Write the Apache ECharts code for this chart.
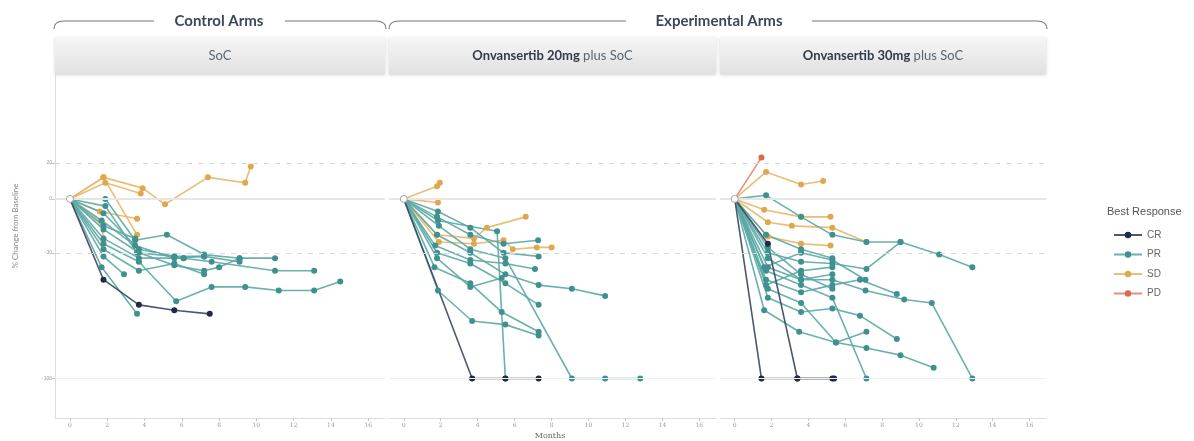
<!DOCTYPE html>
<html><head><meta charset="utf-8">
<script src="https://cdn.jsdelivr.net/npm/echarts@6/dist/echarts.min.js"></script>
<style>html,body{margin:0;padding:0;background:#fff}#c{width:1194px;height:441px}</style>
</head><body><div id="c"></div>
<script>
// ---- tick labels / categories ----
const monthTicks = [0, 2, 4, 6, 8, 10, 12, 14, 16];
const yTicks = [20, 0, -30, -100];
const responses = ['CR', 'PR', 'SD', 'PD'];
const panelTitles = ['SoC', 'Onvansertib 20mg plus SoC', 'Onvansertib 30mg plus SoC'];

// ---- panel 1: SoC ----
const socCR = [
  [[0,0],[1.8,-45],[3.7,-59],[5.6,-62],[7.5,-64]]
];
const socPR = [
  [[0,0],[1.9,0],[3.5,-23],[5.2,-20],[7.2,-31],[9.1,-33],[11,-33]],
  [[0,0],[1.8,-8],[3.7,-28],[5.6,-32],[7.2,-32],[9.1,-35]],
  [[0,0],[1.8,-17],[3.7,-30],[5.6,-37],[7.2,-40],[8,-38],[9.1,-33]],
  [[0,0],[1.8,-22],[3.7,-33],[6.1,-33],[7.6,-35],[11,-40],[13.1,-40]],
  [[0,0],[1.8,-32],[2.9,-42]],
  [[0,0],[1.8,-28],[3.7,-40],[5.6,-36],[7.2,-42]],
  [[0,0],[1.8,-25],[3.7,-35],[5.7,-57],[7.6,-49],[9.4,-49],[11.2,-51],[13.1,-51],[14.5,-46]],
  [[0,0],[1.7,-38],[3.6,-64]],
  [[0,0],[1.7,-12],[3.5,-26],[5.6,-33],[7.2,-32]],
  [[0,0],[1.8,-15],[3.5,-22]],
  [[0,0],[1.9,-4],[3.6,-30],[5.6,-32],[6.1,-33]]
];
const socSD = [
  [[0,0],[1.8,12],[3.9,6],[5.1,-3],[7.4,12],[9.4,9],[9.7,18]],
  [[0,0],[1.9,9],[3.8,3]],
  [[0,0],[1.8,12],[3.6,-20]],
  [[0,0],[1.6,-7],[3.6,-11]],
  [[0,0],[1.7,-13],[1.8,-23]]
];
const socPD = [];

// ---- panel 2: Onvansertib 20mg ----
const d20CR = [
  [[0,0],[3.7,-100],[5.5,-100],[7.3,-100]]
];
const d20PR = [
  [[0,0],[1.85,-7],[3.6,-16],[5.4,-30],[7.3,-32]],
  [[0,0],[1.85,-12],[5.05,-18],[5.5,-100]],
  [[0,0],[1.8,-20],[3.6,-30],[5.5,-42],[7.3,-48],[9.1,-50],[10.9,-54]],
  [[0,0],[1.7,-26],[3.6,-34],[5.5,-36],[7.1,-39]],
  [[0,0],[1.66,-38],[3.6,-47],[5.3,-63],[7.3,-74]],
  [[0,0],[1.85,-51],[3.7,-68],[5.5,-70],[7.3,-76]],
  [[0,0],[1.8,-30],[3.6,-36],[5.5,-47],[7.3,-59]],
  [[0,0],[1.9,-15],[3.6,-28],[5.5,-33],[9.1,-100],[10.9,-100],[12.8,-100]],
  [[0,0],[1.8,-33],[3.6,-49],[5.3,-44]],
  [[0,0],[1.8,-10],[3.6,-20],[5.4,-25],[7.27,-23]]
];
const d20SD = [
  [[0,0],[1.8,7],[1.95,9]],
  [[0,0],[1.85,-2]],
  [[0,0],[1.8,-20],[3.8,-22],[4.5,-16],[6.6,-10]],
  [[0,0],[1.9,-24],[3.8,-25],[5.4,-23],[5.9,-28],[7.2,-27],[8,-27]]
];
const d20PD = [];

// ---- panel 3: Onvansertib 30mg ----
const d30CR = [
  [[0,0],[1.45,-100],[3.4,-100],[5.3,-100]],
  [[0,0],[1.8,-25],[3.4,-100],[5.4,-100]]
];
const d30PR = [
  [[0,0],[1.7,2],[3.6,-10],[5.3,-20],[7.15,-24],[9.0,-24],[11.1,-31],[12.9,-38]],
  [[0,0],[1.8,-30],[3.6,-35],[5.3,-36],[7.15,-39],[9.0,-24]],
  [[0,0],[1.8,-38],[3.6,-45],[5.3,-45],[7.1,-51],[9.2,-56],[10.7,-58],[12.9,-100]],
  [[0,0],[1.7,-45],[3.6,-52],[5.3,-48],[6.8,-45],[8.8,-53]],
  [[0,0],[1.6,-62],[3.5,-74],[5.5,-80],[7.15,-74]],
  [[0,0],[1.8,-55],[3.6,-63],[5.3,-61],[6.8,-65],[8.8,-78]],
  [[0,0],[1.8,-50],[3.6,-58],[5.5,-80],[7.15,-83],[9.0,-87],[10.8,-94]],
  [[0,0],[1.7,-40],[3.6,-48],[5.3,-55],[7.15,-100]],
  [[0,0],[1.6,-38],[3.6,-30],[5.3,-34],[7.1,-45]],
  [[0,0],[1.8,-33],[3.6,-45],[5.3,-42]],
  [[0,0],[1.7,-48],[3.6,-40],[5.3,-38]],
  [[0,0],[1.8,-27],[3.6,-42],[5.3,-50]],
  [[0,0],[1.7,-20],[3.6,-28],[5.3,-33]]
];
const d30SD = [
  [[0,0],[1.7,15],[3.6,8],[4.8,10]],
  [[0,0],[1.6,-6],[3.6,-10],[5.2,-10]],
  [[0,0],[1.8,-13],[3.1,-15],[5.3,-16],[7.15,-24]],
  [[0,0],[1.8,-21],[3.6,-25],[5.2,-26]]
];
const d30PD = [
  [[0,0],[1.45,23]]
];

const panels = [
  {CR: socCR, PR: socPR, SD: socSD, PD: socPD},
  {CR: d20CR, PR: d20PR, SD: d20SD, PD: d20PD},
  {CR: d30CR, PR: d30PR, SD: d30SD, PD: d30PD}
];

const lineColor = {CR: '#3a4660', PR: '#5aa8a5', SD: '#e8b666', PD: '#e2836a'};
const dotColor  = {CR: '#1f2b42', PR: '#3f918f', SD: '#dfa84f', PD: '#d8694d'};

const gridBoxes = [
  {left: 55, width: 330},
  {left: 389, width: 327},
  {left: 720, width: 326}
];
const TOP = 75, BOTTOM_Y = 418;

const grids = [], xAxes = [], yAxes = [], series = [];
gridBoxes.forEach((g, i) => {
  grids.push({left: g.left, width: g.width, top: TOP, height: BOTTOM_Y - TOP, containLabel: false});
  xAxes.push({
    type: 'value', gridIndex: i, min: -0.8, max: 16.9,
    axisLine: {show: true, onZero: false, lineStyle: {color: '#dcdcdc', width: 1}},
    axisTick: {show: true, customValues: monthTicks, length: 3, lineStyle: {color: '#c8c8c8'}},
    axisLabel: {show: true, customValues: monthTicks, fontSize: 6, color: '#9a9a9a', margin: 4, fontFamily: 'DejaVu Serif'},
    splitLine: {show: false}
  });
  yAxes.push({
    type: 'value', gridIndex: i, min: -122, max: 69,
    axisLine: {show: i === 0, onZero: false, lineStyle: {color: '#dcdcdc', width: 1}},
    axisTick: {show: i === 0, customValues: yTicks, length: 3, lineStyle: {color: '#c8c8c8'}},
    axisLabel: {show: i === 0, customValues: yTicks, fontSize: 5, color: '#9a9a9a', margin: 3},
    splitLine: {show: false}
  });
  // reference lines
  series.push({
    type: 'line', xAxisIndex: i, yAxisIndex: i, data: [[0, 0]], symbol: 'none',
    lineStyle: {opacity: 0}, silent: true, z: 1,
    markLine: {
      silent: true, symbol: 'none', label: {show: false},
      data: [
        {yAxis: 20, lineStyle: {type: [5, 6], color: '#d8d8d8', width: 1}},
        {yAxis: 0, lineStyle: {type: 'solid', color: '#e6e6e6', width: 2}},
        {yAxis: -30, lineStyle: {type: [5, 6], color: '#d8d8d8', width: 1}},
        {yAxis: -100, lineStyle: {type: 'solid', color: '#f0f0f0', width: 1}}
      ]
    }
  });
  const order = ['SD', 'PR', 'CR', 'PD'];
  order.forEach(r => {
    panels[i][r].forEach(pts => {
      series.push({
        type: 'line', name: r, xAxisIndex: i, yAxisIndex: i, data: pts,
        symbol: 'circle', symbolSize: 6, showSymbol: true,
        lineStyle: {color: lineColor[r], width: 1.6, opacity: 0.9},
        itemStyle: {color: dotColor[r]}, z: 3, animation: false
      });
    });
  });
  series.push({
    type: 'line', xAxisIndex: i, yAxisIndex: i, data: [[0, 0]],
    symbol: 'circle', symbolSize: 7, showSymbol: true,
    lineStyle: {opacity: 0},
    itemStyle: {color: '#ffffff', borderColor: '#a8a8a8', borderWidth: 1}, z: 6
  });
});

// legend dummy series to ensure all four names exist
responses.forEach(r => {
  if (!series.some(s => s.name === r)) {
    series.push({type: 'line', name: r, xAxisIndex: 0, yAxisIndex: 0, data: [],
      symbol: 'circle', symbolSize: 6, lineStyle: {color: lineColor[r], width: 1.6}, itemStyle: {color: dotColor[r]}});
  }
});

function bracket(x1, x2, t1, t2, y) {
  const st = {stroke: '#6f7884', lineWidth: 1.2, fill: null};
  return [
    {type: 'bezierCurve', shape: {x1: x1, y1: y + 8, x2: x1 + 10, y2: y, cpx1: x1, cpy1: y}, style: st, silent: true},
    {type: 'line', shape: {x1: x1 + 10, y1: y, x2: t1, y2: y}, style: st, silent: true},
    {type: 'line', shape: {x1: t2, y1: y, x2: x2 - 10, y2: y}, style: st, silent: true},
    {type: 'bezierCurve', shape: {x1: x2 - 10, y1: y, x2: x2, y2: y + 8, cpx1: x2, cpy1: y}, style: st, silent: true}
  ];
}

const stripFill = {type: 'linear', x: 0, y: 0, x2: 0, y2: 1,
  colorStops: [{offset: 0, color: '#f6f6f6'}, {offset: 1, color: '#e1e1e1'}]};

const graphics = [];
graphics.push(...bracket(54, 386, 154, 285, 21));
graphics.push(...bracket(389, 1047, 626, 812, 21));
graphics.push({type: 'text', x: 219, y: 21, style: {text: 'Control Arms', font: 'bold 15px Lato', fill: '#3b4858', textAlign: 'center', textVerticalAlign: 'middle'}});
graphics.push({type: 'text', x: 719, y: 21, style: {text: 'Experimental Arms', font: 'bold 15px Lato', fill: '#3b4858', textAlign: 'center', textVerticalAlign: 'middle'}});
gridBoxes.forEach((g, i) => {
  graphics.push({type: 'rect', shape: {x: g.left, y: 37, width: g.width, height: 37},
    style: {fill: stripFill, shadowBlur: 3, shadowColor: 'rgba(0,0,0,0.18)', shadowOffsetY: 1}, silent: true});
});
graphics.push({type: 'text', x: 220, y: 56, style: {text: panelTitles[0], font: '13px Lato', fill: '#5b6570', textAlign: 'center', textVerticalAlign: 'middle'}});
[1, 2].forEach(i => {
  const g = gridBoxes[i];
  const parts = panelTitles[i].split(' plus ');
  graphics.push({type: 'text', x: g.left + g.width / 2, y: 56,
    style: {
      text: '{b|' + parts[0] + '}{n| plus ' + parts[1] + '}',
      rich: {b: {font: 'bold 13px Lato', fill: '#323c48'}, n: {font: '13px Lato', fill: '#5b6570'}},
      textAlign: 'center', textVerticalAlign: 'middle'
    }});
});
graphics.push({type: 'text', x: 15, y: 226, rotation: Math.PI / 2,
  style: {text: '% Change from Baseline', font: '8px Lato', fill: '#8a8a8a', textAlign: 'center', textVerticalAlign: 'middle'}});
graphics.push({type: 'text', x: 550, y: 436,
  style: {text: 'Months', font: '8px "DejaVu Serif"', fill: '#666', textAlign: 'center', textVerticalAlign: 'middle'}});
graphics.push({type: 'text', x: 1107, y: 212,
  style: {text: 'Best Response', font: '11px "Liberation Sans"', fill: '#555', textAlign: 'left', textVerticalAlign: 'middle'}});

const chart = echarts.init(document.getElementById('c'), null, {renderer: 'canvas'});
chart.setOption({
  animation: false,
  backgroundColor: '#ffffff',
  grid: grids, xAxis: xAxes, yAxis: yAxes, series: series,
  legend: {
    data: responses, orient: 'vertical', left: 1108, top: 225,
    itemWidth: 28, itemHeight: 8, itemGap: 9.5,
    textStyle: {fontSize: 10, color: '#666', fontFamily: 'Liberation Sans'},
    selectedMode: false
  },
  graphic: graphics
});
</script>
</body></html>
